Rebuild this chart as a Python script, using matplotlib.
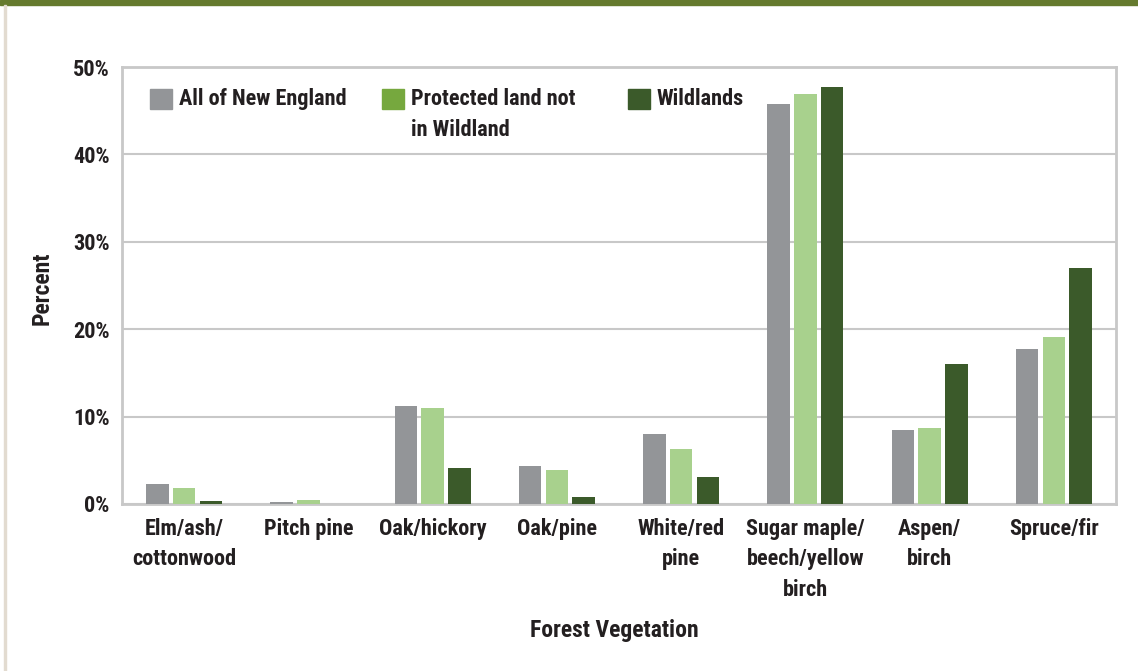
import matplotlib
matplotlib.use("Agg")
import matplotlib.pyplot as plt
from matplotlib import font_manager
from matplotlib.patches import Rectangle
import numpy as np

categories = ["Elm/ash/\ncottonwood", "Pitch pine", "Oak/hickory", "Oak/pine",
              "White/red\npine", "Sugar maple/\nbeech/yellow\nbirch", "Aspen/\nbirch", "Spruce/fir"]
all_ne = [2.3, 0.2, 11.2, 4.3, 8.0, 45.8, 8.5, 17.7]
protected = [1.8, 0.5, 11.0, 3.9, 6.3, 46.9, 8.7, 19.1]
wildlands = [0.4, 0.0, 4.1, 0.8, 3.1, 47.7, 16.0, 27.0]
series_names = ["All of New England", "Protected land not\nin Wildland", "Wildlands"]

c_gray = "#939598"
c_light = "#a8d18d"
c_dark = "#3b5a2a"
c_legend_light = "#76a83e"
c_text = "#231f20"

# pick a condensed bold face if one is there
have = set(f.name for f in font_manager.fontManager.ttflist)
fam = "DejaVu Sans"
fs = 13
for cand, size in [("Roboto Condensed", 16), ("PT Sans Narrow", 17), ("Archivo Narrow", 16)]:
    if cand in have:
        fam, fs = cand, size
        break
plt.rcParams['font.family'] = [fam, "DejaVu Sans"]
plt.rcParams['font.weight'] = 'bold'

W, H = 1138, 671
fig = plt.figure(figsize=(W / 100, H / 100), dpi=100)
ax = fig.add_axes([122 / W, 1 - 504 / H, 994 / W, 437 / H])

x = np.arange(len(categories))
bw = 0.18
step = 0.215
ax.bar(x - step, all_ne, bw, color=c_gray, zorder=3)
ax.bar(x, protected, bw, color=c_light, zorder=3)
ax.bar(x + step, wildlands, bw, color=c_dark, zorder=3)

ax.set_xlim(-0.5, len(categories) - 0.5)
ax.set_ylim(0, 50)
ax.set_yticks(range(0, 51, 10))
ax.set_yticklabels([f"{v}%" for v in range(0, 51, 10)], fontsize=fs, fontweight='bold', color=c_text)
ax.set_xticks(x)
ax.set_xticklabels(categories, fontsize=fs, fontweight='bold', color=c_text, linespacing=1.5, va='top')
ax.tick_params(axis='y', length=0, pad=9)
ax.tick_params(axis='x', length=0, pad=10)
ax.yaxis.grid(True, color="#c8c8c8", linewidth=1.5, zorder=0)
for s in ax.spines.values():
    s.set_color("#c8c8c8")
    s.set_linewidth(2)

fig.text(42 / W, 1 - 288 / H, "Percent", fontsize=fs + 1, fontweight='bold', color=c_text,
         rotation=90, ha='center', va='center')
fig.text(614 / W, 1 - 630 / H, "Forest Vegetation", fontsize=fs + 1, fontweight='bold',
         color=c_text, ha='center', va='center')

# legend drawn by hand
leg_cols = [c_gray, c_legend_light, c_dark]
leg_x = [150, 382, 628]
for lx, col, name in zip(leg_x, leg_cols, series_names):
    fig.patches.append(Rectangle((lx / W, 1 - 109 / H), 22 / W, 20 / H, color=col,
                                 transform=fig.transFigure, figure=fig))
    fig.text((lx + 29) / W, 1 - 99 / H, name.split("\n")[0], fontsize=fs, fontweight='bold',
             color=c_text, ha='left', va='center')
    if "\n" in name:
        fig.text((lx + 29) / W, 1 - 130 / H, name.split("\n")[1], fontsize=fs, fontweight='bold',
                 color=c_text, ha='left', va='center')

# page decoration
fig.patches.append(Rectangle((0, 1 - 5 / H), 1, 5 / H, color="#657a2e",
                             transform=fig.transFigure, figure=fig))
fig.patches.append(Rectangle((4 / W, 0), 2 / W, 1 - 5 / H, color="#e2dbd0",
                             transform=fig.transFigure, figure=fig))

fig.savefig("out.png", dpi=100)
